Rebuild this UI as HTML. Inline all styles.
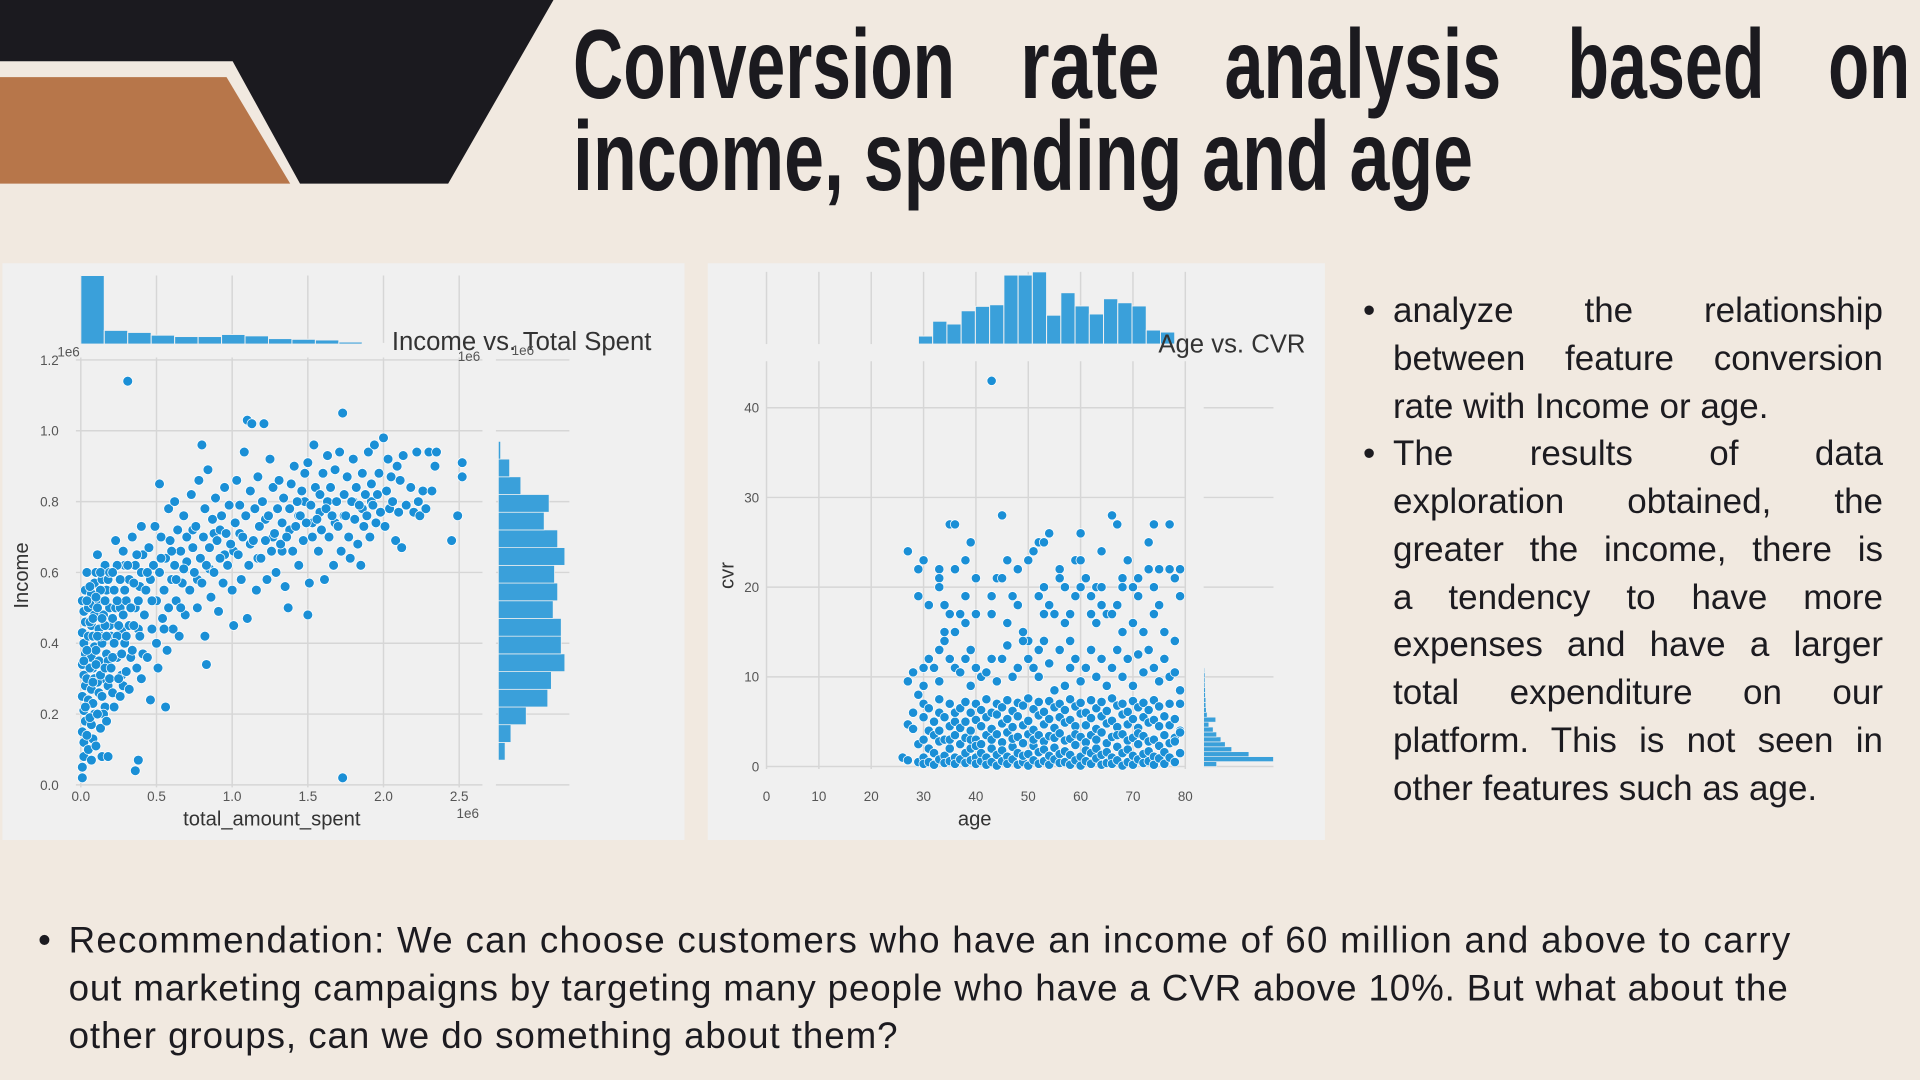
<!DOCTYPE html>
<html><head><meta charset="utf-8"><style>
html,body{margin:0;padding:0;background:#f1e9e0;}
svg{display:block;}
.tick{font-family:"Liberation Sans",sans-serif;font-size:11px;fill:#555;}
.axl{font-family:"Liberation Sans",sans-serif;font-size:16.5px;fill:#333;}
.ttl{font-family:"Liberation Sans",sans-serif;font-size:21px;fill:#333;}
.body{font-family:"Liberation Sans",sans-serif;font-size:30px;fill:#1c1b20;}
.head{font-family:"Liberation Sans Narrow","Liberation Sans",sans-serif;font-weight:bold;font-size:80px;fill:#1b1a1f;}
#bul{position:absolute;left:1393px;top:287px;width:490px;font-family:"Liberation Sans",sans-serif;font-size:35px;color:#1c1b20;}
#bul div{height:47.75px;line-height:47.75px;white-space:nowrap;text-align:justify;text-align-last:justify;}
#bul div.last{text-align-last:left;}
#bul .dot{position:absolute;left:-30px;}
</style></head><body>
<svg id="root" width="1920" height="1080" viewBox="0 0 1568 882" xmlns="http://www.w3.org/2000/svg">
<rect width="1568" height="882" fill="#f1e9e0"/>
<polygon points="0,0 452,0 366,150 245,150 190,50 0,50" fill="#1b1a1f"/>
<polygon points="0,63 185,63 237,150 0,150" fill="#b7764a"/>
<g>
<text class="head" x="468" y="80" textLength="312" lengthAdjust="spacingAndGlyphs">Conversion</text>
<text class="head" x="833" y="80" textLength="114" lengthAdjust="spacingAndGlyphs">rate</text>
<text class="head" x="1000" y="80" textLength="226" lengthAdjust="spacingAndGlyphs">analysis</text>
<text class="head" x="1280" y="80" textLength="161" lengthAdjust="spacingAndGlyphs">based</text>
<text class="head" x="1493" y="80" textLength="67" lengthAdjust="spacingAndGlyphs">on</text>
<text class="head" x="468" y="155" textLength="735" lengthAdjust="spacingAndGlyphs">income, spending and age</text>
</g>
<rect x="2" y="215" width="557" height="471" fill="#f0f0f0"/>
<rect x="578" y="215" width="504" height="471" fill="#f0f0f0"/>
<g id="left"></g>
<g id="right"></g>
<g>
<text class="body" x="31" y="778">•</text>
<text class="body" x="56" y="778" textLength="1406" lengthAdjust="spacing">Recommendation: We can choose customers who have an income of 60 million and above to carry</text>
<text class="body" x="56" y="817" textLength="1404" lengthAdjust="spacing">out marketing campaigns by targeting many people who have a CVR above 10%. But what about the</text>
<text class="body" x="56" y="856" textLength="677" lengthAdjust="spacing">other groups, can we do something about them?</text>
</g>
</svg>
<div id="bul">
<div style="position:relative"><span class="dot">•</span>analyze the relationship</div>
<div>between feature conversion</div>
<div class="last">rate with Income or age.</div>
<div style="position:relative"><span class="dot">•</span>The results of data</div>
<div>exploration obtained, the</div>
<div>greater the income, there is</div>
<div>a tendency to have more</div>
<div>expenses and have a larger</div>
<div>total expenditure on our</div>
<div>platform. This is not seen in</div>
<div class="last">other features such as age.</div>
</div>
<script>
// ---------- Left chart data ----------
const spentTicks = [0, 0.5, 1.0, 1.5, 2.0, 2.5];
const spentTickLabels = ["0.0","0.5","1.0","1.5","2.0","2.5"];
const incomeTicks = [0, 0.2, 0.4, 0.6, 0.8, 1.0, 1.2];
const incomeTickLabels = ["0.0","0.2","0.4","0.6","0.8","1.0","1.2"];
const spentHistStart = 0;
const spentHistBin = 0.155;
const spentHistCounts = [1.0,0.2,0.17,0.13,0.11,0.11,0.14,0.12,0.08,0.07,0.06,0.03,0.01,0.005];
const incomeHistStart = 0.07;
const incomeHistBin = 0.05;
const incomeHistCounts = [15,28,62,110,118,148,140,140,122,132,125,148,132,102,113,50,25,5];
const spentIncomePoints = [
[0.01,0.02],[0.01,0.05],[0.02,0.08],[0.02,0.12],[0.01,0.15],[0.03,0.18],[0.02,0.21],[0.01,0.25],[0.03,0.28],[0.02,0.31],[0.01,0.34],[0.03,0.37],[0.02,0.40],[0.01,0.43],[0.03,0.46],[0.02,0.49],[0.01,0.52],[0.03,0.55],[0.04,0.60],[0.04,0.30],[0.05,0.10],[0.05,0.24],[0.05,0.42],[0.05,0.50],
[0.07,0.07],[0.08,0.13],[0.07,0.17],[0.09,0.20],[0.08,0.23],[0.07,0.27],[0.09,0.30],[0.08,0.33],[0.07,0.36],[0.09,0.39],[0.08,0.42],[0.07,0.45],[0.09,0.48],[0.08,0.51],[0.07,0.54],[0.09,0.57],[0.10,0.60],[0.11,0.65],[0.12,0.26],[0.12,0.35],[0.12,0.44],[0.12,0.52],[0.13,0.16],[0.14,0.08],[0.14,0.40],[0.14,0.58],[0.15,0.30],[0.15,0.48],[0.16,0.22],[0.16,0.62],[0.17,0.37],[0.17,0.55],[0.18,0.08],[0.18,0.28],[0.19,0.45],[0.19,0.50],
[0.04,0.14],[0.06,0.33],[0.06,0.46],[0.10,0.11],[0.10,0.38],[0.11,0.29],[0.11,0.50],[0.13,0.42],[0.13,0.55],[0.15,0.20],[0.16,0.45],[0.18,0.35],[0.18,0.58],[0.20,0.42],[0.21,0.26],[0.23,0.50],[0.24,0.36],[0.27,0.44],[0.28,0.28],[0.29,0.62],
[0.02,0.35],[0.03,0.22],[0.04,0.52],[0.04,0.38],[0.06,0.19],[0.06,0.56],[0.08,0.29],[0.08,0.47],[0.10,0.34],[0.10,0.53],[0.11,0.20],[0.11,0.42],[0.13,0.31],[0.13,0.60],[0.14,0.25],[0.14,0.47],[0.16,0.33],[0.16,0.52],[0.17,0.18],[0.17,0.42],[0.19,0.30],[0.19,0.60],[0.21,0.47],[0.21,0.36],[0.22,0.55],[0.24,0.42],[0.24,0.62],[0.26,0.50],[0.27,0.31],[0.29,0.40],[0.30,0.52],[0.32,0.45],[0.32,0.58],[0.33,0.36],[0.36,0.50],[0.36,0.62],[0.38,0.44],[0.39,0.56],[0.41,0.37],[0.41,0.65],
[0.20,0.33],[0.21,0.60],[0.22,0.40],[0.22,0.22],[0.23,0.69],[0.24,0.52],[0.25,0.30],[0.25,0.45],[0.26,0.58],[0.26,0.25],[0.27,0.37],[0.28,0.66],[0.28,0.48],[0.29,0.55],[0.30,0.32],[0.30,0.42],[0.31,0.62],[0.31,1.14],[0.32,0.27],[0.33,0.50],[0.34,0.70],[0.34,0.38],[0.35,0.45],[0.35,0.57],[0.36,0.04],[0.37,0.33],[0.37,0.65],[0.38,0.07],[0.38,0.52],[0.39,0.42],[0.40,0.73],[0.40,0.60],[0.40,0.30],
[0.42,0.48],[0.43,0.55],[0.44,0.36],[0.45,0.67],[0.46,0.24],[0.46,0.58],[0.47,0.44],[0.48,0.62],[0.49,0.73],[0.50,0.52],[0.50,0.40],[0.51,0.33],[0.52,0.85],[0.52,0.60],[0.53,0.70],[0.54,0.47],[0.55,0.55],[0.56,0.22],[0.56,0.64],[0.57,0.38],[0.58,0.78],[0.58,0.50],[0.59,0.69],[0.60,0.58],[0.61,0.44],[0.62,0.80],[0.62,0.62],[0.63,0.52],[0.64,0.72],[0.65,0.42],[0.66,0.66],[0.67,0.57],[0.68,0.76],[0.69,0.48],[0.70,0.63],[0.70,0.70],
[0.44,0.60],[0.47,0.52],[0.53,0.64],[0.55,0.44],[0.60,0.66],[0.63,0.58],[0.66,0.50],[0.68,0.61],[0.74,0.72],[0.77,0.58],[0.85,0.61],[0.88,0.71],[0.92,0.72],[0.95,0.65],[1.01,0.66],[1.05,0.71],[1.12,0.68],[1.17,0.64],[1.22,0.75],[1.27,0.70],[1.33,0.66],[1.38,0.72],[1.44,0.76],[1.48,0.80],[1.53,0.74],[1.58,0.77],[1.63,0.80],[1.68,0.74],[1.74,0.76],[1.80,0.80],[1.86,0.78],[1.92,0.80],
[0.72,0.55],[0.73,0.82],[0.74,0.67],[0.75,0.60],[0.76,0.73],[0.77,0.50],[0.78,0.86],[0.79,0.64],[0.80,0.96],[0.80,0.57],[0.81,0.70],[0.82,0.42],[0.82,0.78],[0.83,0.34],[0.83,0.62],[0.84,0.89],[0.85,0.67],[0.86,0.53],[0.87,0.75],[0.88,0.60],[0.89,0.81],[0.90,0.69],[0.91,0.49],[0.92,0.64],[0.93,0.76],[0.94,0.57],[0.95,0.84],[0.96,0.71],[0.97,0.62],[0.98,0.79],[0.99,0.68],[1.00,0.55],
[1.01,0.45],[1.02,0.74],[1.03,0.86],[1.04,0.65],[1.05,0.79],[1.06,0.58],[1.07,0.70],[1.08,0.94],[1.09,0.76],[1.10,0.47],[1.10,1.03],[1.11,0.62],[1.12,0.83],[1.13,1.02],[1.14,0.69],[1.15,0.78],[1.16,0.55],[1.17,0.87],[1.18,0.73],[1.19,0.64],[1.20,0.80],[1.21,1.02],[1.22,0.69],[1.23,0.58],[1.24,0.76],[1.25,0.92],[1.26,0.66],[1.27,0.84],[1.28,0.71],[1.29,0.60],[1.30,0.78],
[1.31,0.86],[1.32,0.68],[1.33,0.74],[1.34,0.81],[1.35,0.56],[1.36,0.70],[1.37,0.50],[1.38,0.78],[1.39,0.85],[1.40,0.66],[1.41,0.90],[1.42,0.73],[1.43,0.80],[1.44,0.62],[1.45,0.76],[1.46,0.83],[1.47,0.69],[1.48,0.88],[1.49,0.74],[1.50,0.91],[1.50,0.48],[1.51,0.57],[1.52,0.79],[1.53,0.70],[1.54,0.96],[1.55,0.84],[1.56,0.75],[1.57,0.66],[1.58,0.82],[1.59,0.72],[1.60,0.88],
[1.61,0.58],[1.62,0.78],[1.63,0.93],[1.64,0.70],[1.65,0.84],[1.66,0.76],[1.67,0.62],[1.68,0.89],[1.69,0.80],[1.70,0.73],[1.71,0.94],[1.72,0.66],[1.73,1.05],[1.73,0.02],[1.74,0.82],[1.75,0.76],[1.76,0.87],[1.77,0.70],[1.78,0.64],[1.79,0.80],[1.80,0.92],[1.81,0.75],[1.82,0.84],[1.83,0.68],[1.84,0.79],[1.85,0.62],[1.86,0.88],[1.87,0.73],[1.88,0.82],[1.89,0.76],[1.90,0.94],[1.91,0.70],[1.92,0.85],[1.93,0.79],[1.94,0.96],[1.95,0.74],[1.96,0.82],[1.97,0.88],[1.98,0.77],[2.00,0.98],
[2.01,0.73],[2.02,0.83],[2.03,0.92],[2.04,0.78],[2.05,0.87],[2.06,0.80],[2.08,0.69],[2.09,0.90],[2.10,0.77],[2.11,0.86],[2.12,0.67],[2.13,0.93],[2.15,0.79],[2.18,0.84],[2.20,0.77],[2.22,0.94],[2.23,0.80],[2.24,0.76],[2.26,0.83],[2.28,0.78],[2.30,0.94],[2.32,0.83],[2.34,0.90],[2.35,0.94],[2.45,0.69],[2.49,0.76],[2.52,0.91],[2.52,0.87]
];

// ---------- Right chart data ----------
const ageTicks = [0,10,20,30,40,50,60,70,80];
const ageTickLabels = ["0","10","20","30","40","50","60","70","80"];
const cvrTicks = [0,10,20,30,40];
const cvrTickLabels = ["0","10","20","30","40"];
const ageHistStart = 26.3;
const ageHistBin = 2.72;
const ageHistCounts = [2,20,57,50,83,94,98,172,172,180,72,128,95,75,113,103,95,35,30];
const cvrHistStart = 0;
const cvrHistBin = 0.55;
const cvrHistCounts = [30,162,105,65,50,40,30,22,12,28,8,6,5,5,4,4,3,3,3,2];
const cvrHighPoints = [
[27,24],[29,22],[29,19],[30,23],[31,18],[33,22],[33,21],[33,20],[34,18],[34,15],[35,27],[36,27],[36,22],[35,17],[36,15],[37,17],[38,23],[38,19],[38,16],[39,25],[40,21],[40,17],[43,19],[43,17],[43,43],[44,21],[45,21],[45,28],[46,23],[46,16],[47,19],[48,22],[48,18],[49,15],[50,23],[50,14],[51,24],[52,25],[52,19],[53,25],[53,20],[53,17],[54,26],[54,18],[55,17],[56,22],[56,21],[57,20],[57,16],[58,17],[58,14],[59,23],[59,19],[60,26],[60,23],[60,20],[61,21],[62,19],[62,17],[63,20],[63,16],[64,24],[64,20],[64,18],[65,17],[66,28],[66,17],[67,27],[67,18],[68,21],[68,20],[68,15],[69,23],[70,20],[70,16],[71,19],[71,21],[72,15],[73,25],[73,22],[74,27],[74,20],[74,17],[75,18],[75,22],[76,15],[77,27],[77,22],[78,21],[78,14],[79,22],[79,19],
[27,9.5],[28,10.5],[29,8],[30,11],[30,9],[31,12],[32,11],[33,13],[33,9.5],[34,14],[35,12],[36,11],[37,10.5],[38,12],[39,13],[39,9],[40,11],[41,10],[42,10.5],[43,12],[44,9.5],[45,12],[46,13.5],[47,10],[48,11],[49,14],[50,12],[51,11],[52,13],[52,10],[53,14],[54,11.5],[55,8.5],[56,13],[57,9],[58,11],[59,12],[60,9.5],[61,11],[62,13],[63,10],[64,12],[65,9],[66,11],[67,13],[68,10],[69,12],[70,9],[71,12.5],[72,10.5],[73,13],[74,11],[75,9.5],[76,12],[77,10],[78,10.5],[79,8.5]
];
const cvrLowBand = [
[26,[1.0]],[27,[0.7,4.7]],[28,[6,4.2]],[29,[0.5,2.5]],[30,[3,1,0.3,5.5,7]],[31,[2,0.5,4,6.5]],[32,[1.5,3.5,0.2,5]],[33,[2.8,0.8,6,7.5,4]],[34,[1.2,3,0.4,5.5]],[35,[4.5,2,0.6,7,3]],[36,[1,3.5,5,0.3,6]],[37,[2.5,0.8,4.3,6.5]],[38,[1.5,3.2,5,0.4,7.2]],[39,[2,4,0.7,6,3]],[40,[1,3,5.2,0.3,7,2.3]],[41,[2.5,4.5,0.6,6.3,1.5]],[42,[3.5,1,5.5,0.2,7.5]],[43,[2,4.2,0.5,6,3]],[44,[1.3,3.6,5.8,0.1,7]],[45,[2.7,0.6,4.8,6.6,1.8]],[46,[3.8,1.1,5.3,0.3,7.4]],[47,[2.2,4.4,0.8,6.2,3.1]],[48,[1.5,3.3,5.6,0.2,7.1]],[49,[2.6,4.6,0.5,6.8,1.2]],[50,[3.6,1.4,5.1,0.1,7.6]],[51,[2.3,4.1,0.7,6.4,3]],[52,[1.6,3.5,5.7,0.3,7.2]],[53,[2.8,4.7,0.6,6.1,1.9]],[54,[3.4,1.2,5.3,0.2,7.3]],[55,[2.1,4.3,0.8,6.6,3.2]],[56,[1.4,3.7,5.5,0.4,7]],[57,[2.9,4.9,0.5,6.3,1.7]],[58,[3.1,1.3,5.2,0.2,7.5]],[59,[2.4,4.5,0.7,6.7,3.6]],[60,[1.1,3.3,5.9,0.1,7.1]],[61,[2.7,4.6,0.6,6,1.8]],[62,[3.5,1.5,5.4,0.3,7.4]],[63,[2,4.2,0.9,6.5,3]],[64,[1.3,3.8,5.6,0.2,7.2]],[65,[2.6,4.8,0.4,6.2,1.6]],[66,[3.3,1,5.1,0.3,7.6]],[67,[2.2,4.4,0.7,6.8,3.5]],[68,[1.5,3.6,5.8,0.1,7]],[69,[2.9,4.7,0.5,6.1,1.9]],[70,[3.2,1.2,5.3,0.2,7.3]],[71,[2.5,4.3,0.8,6.6,3.7]],[72,[1.4,3.4,5.5,0.4,7.1]],[73,[2.8,4.9,0.6,6.3,1.7]],[74,[3,1.1,5.2,0.2,7.4]],[75,[2.3,4.5,0.9,6.7]],[76,[1.6,3.5,5.6,0.3]],[77,[2.6,1,4.6,7]],[78,[3.2,0.5,5.3,2.8]],[79,[4,1.5,3.8,7]]
];

const NS = "http://www.w3.org/2000/svg";
function mk(parent, tag, attrs, text) {
  const e = document.createElementNS(NS, tag);
  for (const k in attrs) e.setAttribute(k, attrs[k]);
  if (text !== undefined) e.textContent = text;
  parent.appendChild(e);
  return e;
}
const GRID = "#d6d6d6", BAR = "#3aa0da", DOT = "#1a8fd6";

// ---------- Left chart ----------
(function () {
  const g = document.getElementById("left");
  const sx = v => 66 + v * 123.6;
  const sy = v => 641 - v * 289.2;
  const topBase = 281, topH = 56;
  const sideX = 407, sideW = 55, sideMax = 150;
  spentTicks.forEach((t, i) => {
    let l = mk(g, "line", {x1: sx(t), x2: sx(t), y1: 292, y2: 643, stroke: GRID, "stroke-width": 1.2});
    
    
    let l2 = mk(g, "line", {x1: sx(t), x2: sx(t), y1: 225, y2: 281, stroke: GRID, "stroke-width": 1.2});
    
    
    let tx = mk(g, "text", {x: sx(t), y: 654, "text-anchor": "middle", class: "tick"}, spentTickLabels[i]);
    
    
  });
  incomeTicks.forEach((t, i) => {
    let l = mk(g, "line", {x1: 62, x2: 394, y1: sy(t), y2: sy(t), stroke: GRID, "stroke-width": 1.2});
    
    
    let l2 = mk(g, "line", {x1: 405, x2: 465, y1: sy(t), y2: sy(t), stroke: GRID, "stroke-width": 1.2});
    
    
    let tx = mk(g, "text", {x: 48, y: sy(t) + 4, "text-anchor": "end", class: "tick"}, incomeTickLabels[i]);
    
    
  });
  spentHistCounts.forEach((c, i) => {
    const x0 = sx(spentHistStart + i * spentHistBin), x1 = sx(spentHistStart + (i + 1) * spentHistBin);
    const h = c * topH;
    let r = mk(g, "rect", {x: x0, y: topBase - h, width: x1 - x0, height: h, fill: BAR, stroke: "#f0f0f0", "stroke-width": 0.8});
    
    
  });
  incomeHistCounts.forEach((c, i) => {
    const y0 = sy(incomeHistStart + (i + 1) * incomeHistBin), y1 = sy(incomeHistStart + i * incomeHistBin);
    let r = mk(g, "rect", {x: sideX, y: y0, width: c / sideMax * sideW, height: y1 - y0, fill: BAR, stroke: "#f0f0f0", "stroke-width": 0.6});
    
    
  });
  spentIncomePoints.forEach(p => {
    let c = mk(g, "circle", {cx: sx(p[0]), cy: sy(p[1]), r: 4, fill: DOT, stroke: "#ffffff", "stroke-width": 0.6});
    
    
  });
  let t = mk(g, "text", {x: 320, y: 286, class: "ttl"}, "Income vs. Total Spent");
  
  
  let a = mk(g, "text", {x: 222, y: 674, "text-anchor": "middle", class: "axl"}, "total_amount_spent");
  
  
  let b = mk(g, "text", {x: 23, y: 470, "text-anchor": "middle", class: "axl", transform: "rotate(-90 23 470)"}, "Income");
  
  
  [[382, 668], [383, 295], [427, 290], [56, 291]].forEach(q => {
    let o = mk(g, "text", {x: q[0], y: q[1], "text-anchor": "middle", class: "tick"}, "1e6");
    
    
  });
})();

// ---------- Right chart ----------
(function () {
  const g = document.getElementById("right");
  const ax = v => 626 + v * 4.275;
  const ay = v => 626 - v * 7.325;
  const topBase = 281, topH = 59, topMax = 180;
  const sideX = 983, sideW = 57, sideMax = 162;
  ageTicks.forEach((t, i) => {
    let l = mk(g, "line", {x1: ax(t), x2: ax(t), y1: 295, y2: 628, stroke: GRID, "stroke-width": 1.2});
    
    
    let l2 = mk(g, "line", {x1: ax(t), x2: ax(t), y1: 222, y2: 281, stroke: GRID, "stroke-width": 1.2});
    
    
    let tx = mk(g, "text", {x: ax(t), y: 654, "text-anchor": "middle", class: "tick"}, ageTickLabels[i]);
    
    
  });
  cvrTicks.forEach((t, i) => {
    let l = mk(g, "line", {x1: 626, x2: 968, y1: ay(t), y2: ay(t), stroke: GRID, "stroke-width": 1.2});
    
    
    let l2 = mk(g, "line", {x1: 983, x2: 1040, y1: ay(t), y2: ay(t), stroke: GRID, "stroke-width": 1.2});
    
    
    let tx = mk(g, "text", {x: 620, y: ay(t) + 4, "text-anchor": "end", class: "tick"}, cvrTickLabels[i]);
    
    
  });
  ageHistCounts.forEach((c, i) => {
    const x0 = ax(ageHistStart + i * ageHistBin), x1 = ax(ageHistStart + (i + 1) * ageHistBin);
    const h = c / topMax * topH;
    let r = mk(g, "rect", {x: x0, y: topBase - h, width: x1 - x0, height: h, fill: BAR, stroke: "#f0f0f0", "stroke-width": 0.8});
    
    
  });
  cvrHistCounts.forEach((c, i) => {
    const y0 = ay(cvrHistStart + (i + 1) * cvrHistBin), y1 = ay(cvrHistStart + i * cvrHistBin);
    let r = mk(g, "rect", {x: sideX, y: y0, width: c / sideMax * sideW, height: y1 - y0, fill: BAR, stroke: "#f0f0f0", "stroke-width": 0.5});
    
    
  });
  cvrLowBand.forEach(grp => {
    grp[1].forEach(v => {
      let c = mk(g, "circle", {cx: ax(grp[0]), cy: ay(v), r: 3.8, fill: DOT, stroke: "#ffffff", "stroke-width": 0.6});
      
      
    });
  });
  cvrHighPoints.forEach(p => {
    let c = mk(g, "circle", {cx: ax(p[0]), cy: ay(p[1]), r: 3.8, fill: DOT, stroke: "#ffffff", "stroke-width": 0.6});
    
    
  });
  let t = mk(g, "text", {x: 946, y: 288, class: "ttl"}, "Age vs. CVR");
  
  
  let a = mk(g, "text", {x: 796, y: 674, "text-anchor": "middle", class: "axl"}, "age");
  
  
  let b = mk(g, "text", {x: 599, y: 470, "text-anchor": "middle", class: "axl", transform: "rotate(-90 599 470)"}, "cvr");
  
  
})();
</script>
</body></html>
